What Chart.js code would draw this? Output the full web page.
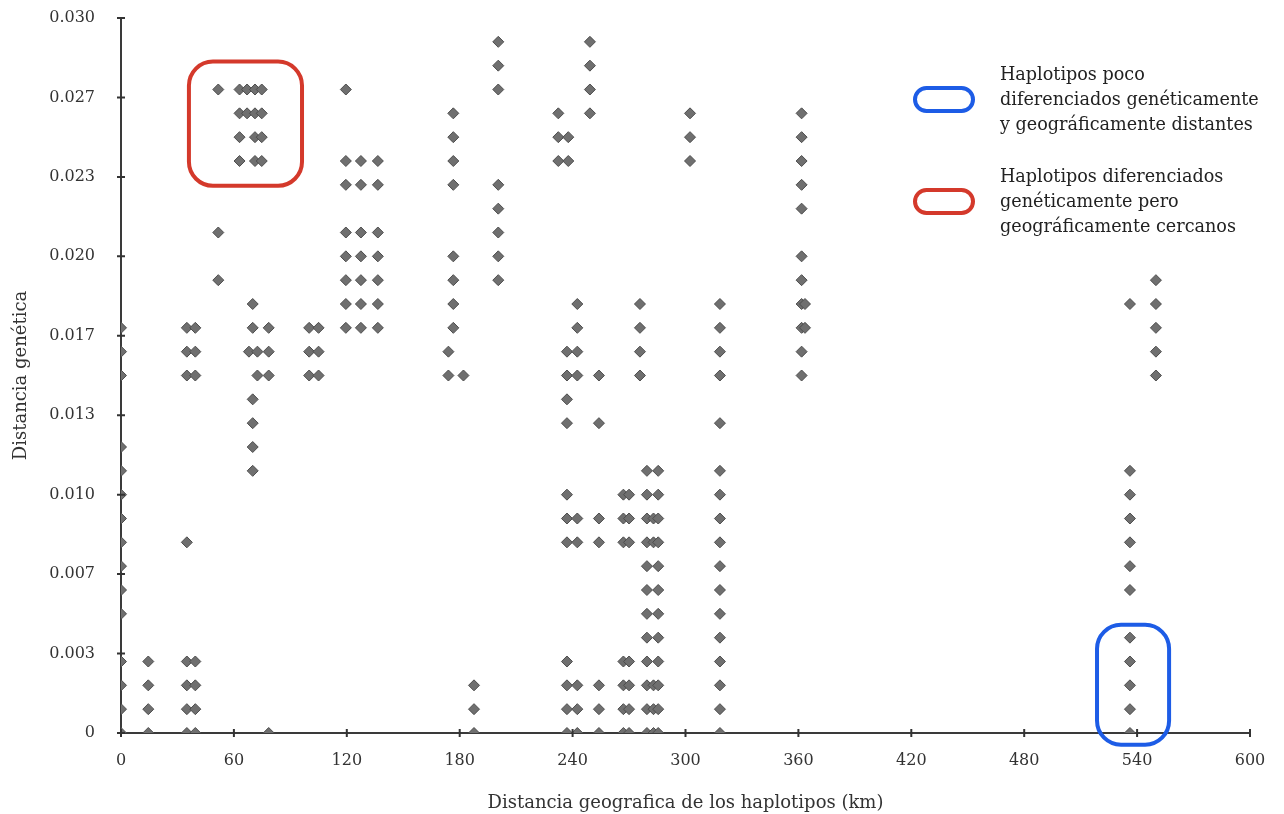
<!DOCTYPE html>
<html>
<head>
<meta charset="utf-8">
<script src="https://cdn.jsdelivr.net/npm/chart.js@4/dist/chart.umd.min.js"></script>
<style>
  body { margin: 0; background: #fff; }
  #wrap { position: relative; width: 1284px; height: 814px; }
  .key { position: absolute; left: 913px; width: 54px; height: 19px; border: 4px solid; border-radius: 14px; }
  .keytext { position: absolute; left: 1000px; font: 17.6px "DejaVu Serif", serif; line-height: 25px; color: #222; }
</style>
</head>
<body>
<div id="wrap">
  <canvas id="chart"></canvas>
  <div class="key" style="top:86px;border-color:#1d5ce6"></div>
  <div class="keytext" style="top:62px">Haplotipos poco<br>diferenciados genéticamente<br>y geográficamente distantes</div>
  <div class="key" style="top:188px;border-color:#d4392b"></div>
  <div class="keytext" style="top:164px">Haplotipos diferenciados<br>genéticamente pero<br>geográficamente cercanos</div>
</div>
<script>
// geographic distance (km) of each column of points
const columnKm = [
  0, 14.5, 35, 39.5, 51.7, 63, 67, 71.2, 74.8, 70, 68, 72.5, 78.5,
  100, 105, 119.5, 127.5, 136.5, 176.6, 174, 182, 187.6, 200.5,
  232.4, 237.7, 249.2, 237, 242.5, 254, 267, 270, 275.8,
  279.5, 283, 285.5, 302.4, 318.3, 361.7, 363.5, 536.2, 550
];
// genetic distance of the points in each column, in units of 0.001
const columnGen = [
  [0, 1, 2, 3, 5, 6, 7, 8, 9, 10, 11, 12, 15, 16, 17],
  [0, 1, 2, 3],
  [0, 1, 2, 3, 8, 15, 16, 17],
  [0, 1, 2, 3, 15, 16, 17],
  [19, 21, 27],
  [24, 25, 26, 27],
  [26, 27],
  [24, 25, 26, 27],
  [24, 25, 26, 27],
  [11, 12, 13, 14, 17, 18],
  [16],
  [15, 16],
  [0, 15, 16, 17],
  [15, 16, 17],
  [15, 16, 17],
  [17, 18, 19, 20, 21, 23, 24, 27],
  [17, 18, 19, 20, 21, 23, 24],
  [17, 18, 19, 20, 21, 23, 24],
  [17, 18, 19, 20, 23, 24, 25, 26],
  [15, 16],
  [15],
  [0, 1, 2],
  [19, 20, 21, 22, 23, 27, 28, 29],
  [24, 25, 26],
  [24, 25],
  [26, 27, 28, 29],
  [0, 1, 2, 3, 8, 9, 10, 13, 14, 15, 16],
  [0, 1, 2, 8, 9, 15, 16, 17, 18],
  [0, 1, 2, 8, 9, 13, 15],
  [0, 1, 2, 3, 8, 9, 10],
  [0, 1, 2, 3, 8, 9, 10],
  [15, 16, 17, 18],
  [0, 1, 2, 3, 4, 5, 6, 7, 8, 9, 10, 11],
  [0, 1, 2, 8, 9],
  [0, 1, 2, 3, 4, 5, 6, 7, 8, 9, 10, 11],
  [24, 25, 26],
  [0, 1, 2, 3, 4, 5, 6, 7, 8, 9, 10, 11, 13, 15, 16, 17, 18],
  [15, 16, 17, 18, 19, 20, 22, 23, 24, 25, 26],
  [17, 18],
  [0, 1, 2, 3, 4, 6, 7, 8, 9, 10, 11, 18],
  [15, 16, 17, 18, 19]
];

const yTickLabels = ['0', '0.003', '0.007', '0.010', '0.013', '0.017', '0.020', '0.023', '0.027', '0.030'];
const yMax = 0.030;

// highlighted groups: [kmFrom, kmTo, genTop, genBottom]
const redGroup = [36.1, 96.2, 0.02817, 0.02296];
const blueGroup = [518.7, 557, 0.00454, -0.00049];

const points = [];
columnKm.forEach((km, i) => {
  columnGen[i].forEach(g => points.push({ x: km, y: g / 1000 }));
});

const serif = "'DejaVu Serif', serif";

// rounded boxes around the two highlighted groups
const boxPlugin = {
  id: 'boxes',
  afterDatasetsDraw(chart) {
    const { ctx, scales: { x, y } } = chart;
    [[redGroup, '#d4392b'], [blueGroup, '#1d5ce6']].forEach(([b, color]) => {
      const x0 = x.getPixelForValue(b[0]), x1 = x.getPixelForValue(b[1]);
      const y0 = y.getPixelForValue(b[2]), y1 = y.getPixelForValue(b[3]);
      ctx.save();
      ctx.strokeStyle = color;
      ctx.lineWidth = 4;
      ctx.beginPath();
      ctx.roundRect(x0, y0, x1 - x0, y1 - y0, 24);
      ctx.stroke();
      ctx.restore();
    });
  }
};

// tick marks that cross the axis lines
const crossTicks = {
  id: 'crossTicks',
  afterDraw(chart) {
    const { ctx, scales: { x, y } } = chart;
    ctx.save();
    ctx.strokeStyle = '#333';
    ctx.lineWidth = 2;
    ctx.beginPath();
    x.ticks.forEach(t => {
      const px = x.getPixelForValue(t.value);
      ctx.moveTo(px, x.top - 4); ctx.lineTo(px, x.top + 4);
    });
    y.ticks.forEach(t => {
      const py = y.getPixelForValue(t.value);
      ctx.moveTo(y.right - 4, py); ctx.lineTo(y.right + 4, py);
    });
    ctx.stroke();
    ctx.restore();
  }
};

new Chart(document.getElementById('chart'), {
  type: 'scatter',
  data: {
    datasets: [{
      data: points,
      pointStyle: 'rectRot',
      pointRadius: 5.5,
      pointHoverRadius: 5.5,
      backgroundColor: '#6f6f6f',
      borderColor: '#4d4d4d',
      borderWidth: 1
    }]
  },
  options: {
    responsive: true,
    maintainAspectRatio: false,
    animation: false,
    events: [],
    layout: { padding: { top: 18, right: 34, bottom: 0, left: 0 } },
    plugins: { legend: { display: false }, tooltip: { enabled: false } },
    scales: {
      x: {
        type: 'linear',
        min: 0,
        max: 600,
        afterFit: s => { s.height = 81; },
        grid: { display: false },
        border: { color: '#3a3a3a', width: 2 },
        ticks: { stepSize: 60, padding: 10, color: '#333', font: { family: serif, size: 16 } },
        title: {
          display: true,
          text: 'Distancia geografica de los haplotipos (km)',
          color: '#333',
          padding: { top: 1, bottom: 0 },
          font: { family: serif, size: 18 }
        }
      },
      y: {
        type: 'linear',
        min: 0,
        max: yMax,
        afterFit: s => { s.width = 121; s.paddingTop = 0; s.paddingBottom = 0; },
        afterBuildTicks: s => { s.ticks = yTickLabels.map((_, i) => ({ value: i * yMax / (yTickLabels.length - 1) })); },
        grid: { display: false },
        border: { color: '#3a3a3a', width: 2 },
        ticks: {
          padding: 18,
          color: '#333',
          font: { family: serif, size: 16 },
          callback: (v, i) => yTickLabels[i]
        },
        title: {
          display: true,
          text: 'Distancia genética',
          color: '#333',
          padding: { top: 11, bottom: 0 },
          font: { family: serif, size: 18 }
        }
      }
    }
  },
  plugins: [boxPlugin, crossTicks]
});
</script>
</body>
</html>
